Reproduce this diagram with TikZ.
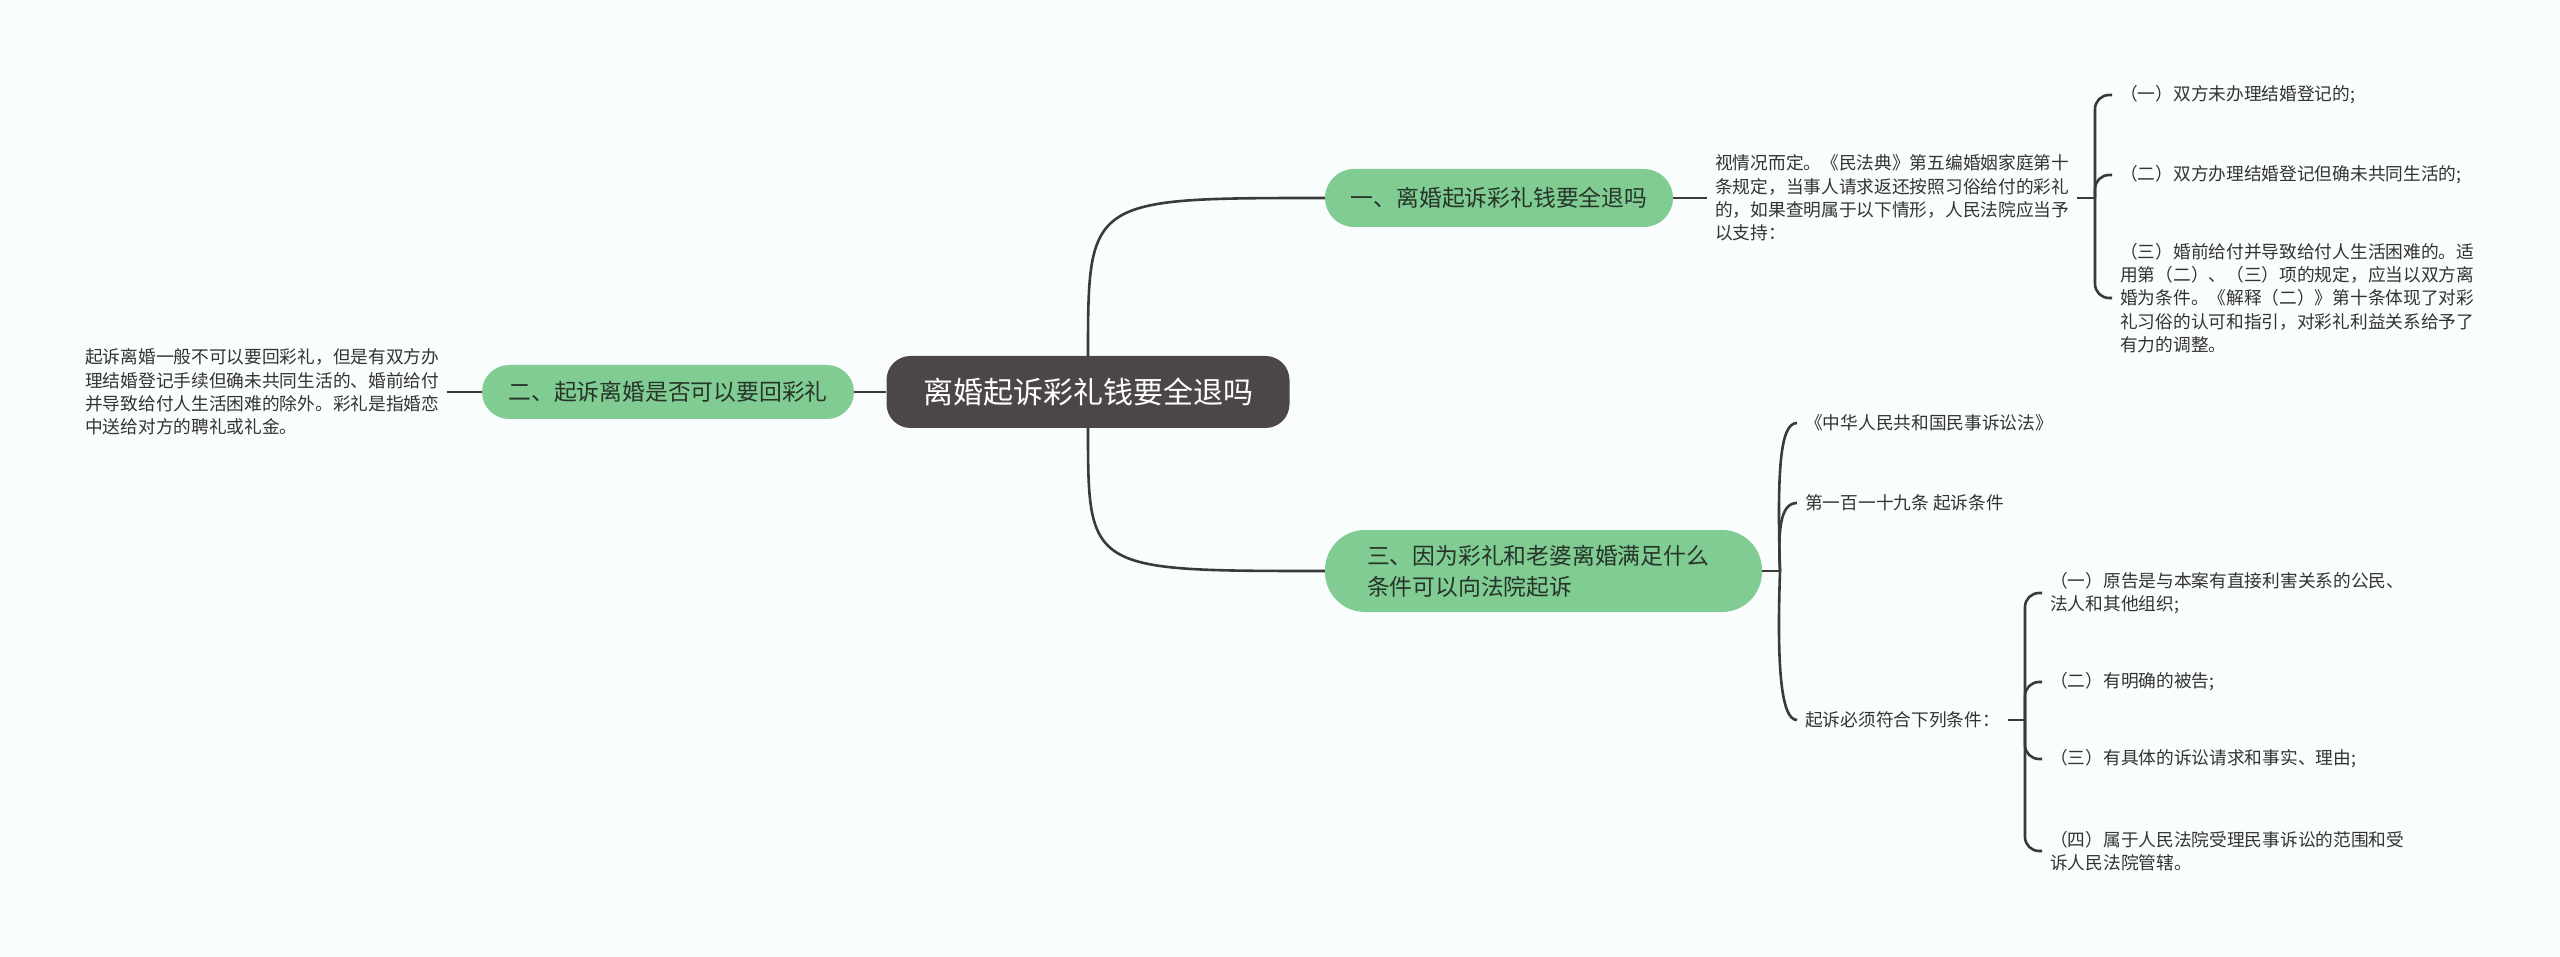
\documentclass[tikz,border=0pt]{standalone}
\usepackage{fontspec}
\setmainfont{Noto Sans CJK SC}
\definecolor{bg}{RGB}{250,253,254}
\definecolor{rootc}{RGB}{76,70,71}
\definecolor{greenc}{RGB}{128,204,147}
\definecolor{linec}{RGB}{58,58,58}
\definecolor{txt}{RGB}{51,51,51}
\definecolor{gtxt}{RGB}{38,52,41}
\tikzset{
  conn/.style={draw=linec, line width=2.6pt},
  rootbox/.style={fill=rootc, rounded corners=24pt, text=white, minimum width=403pt, minimum height=72pt, font=\fontsize{30}{36}\selectfont, inner sep=0pt},
  topic/.style={fill=greenc, text=gtxt, font=\fontsize{22.8}{31}\selectfont, inner sep=0pt},
  leaf/.style={text=txt, font=\fontsize{17.7}{23.4}\selectfont, align=left, inner xsep=8pt, inner ysep=0pt, anchor=west},
}
\begin{document}
\begin{tikzpicture}[x=1pt,y=-1pt]
\fill[bg] (0,0) rectangle (2560,957);
\useasboundingbox (0,0) rectangle (2560,957);

% main nodes
\node[rootbox] (root) at (1088,392) {离婚起诉彩礼钱要全退吗};
\node[topic, rounded corners=27pt, minimum width=372pt, minimum height=54pt] (t2) at (668,392) {二、起诉离婚是否可以要回彩礼};
\node[topic, rounded corners=29pt, minimum width=348pt, minimum height=58pt] (t1) at (1499,198) {一、离婚起诉彩礼钱要全退吗};
\node[topic, rounded corners=40pt, minimum width=437pt, minimum height=82pt, align=left, text width=353pt, inner xsep=42pt] (t3) at (1543.5,571) {三、因为彩礼和老婆离婚满足什么\\条件可以向法院起诉};

% left leaf
\node[leaf] (lt) at (77,392) {起诉离婚一般不可以要回彩礼，但是有双方办\\理结婚登记手续但确未共同生活的、婚前给付\\并导致给付人生活困难的除外。彩礼是指婚恋\\中送给对方的聘礼或礼金。};

% branch 1
\node[leaf] (d1) at (1707,198) {视情况而定。《民法典》第五编婚姻家庭第十\\条规定，当事人请求返还按照习俗给付的彩礼\\的，如果查明属于以下情形，人民法院应当予\\以支持：};
\coordinate (b1) at (2095,198);
\node[leaf] (c11) at (2112,95) {（一）双方未办理结婚登记的;};
\node[leaf] (c12) at (2112,175) {（二）双方办理结婚登记但确未共同生活的;};
\node[leaf] (c13) at (2112,298) {（三）婚前给付并导致给付人生活困难的。适\\用第（二）、（三）项的规定，应当以双方离\\婚为条件。《解释（二）》第十条体现了对彩\\礼习俗的认可和指引，对彩礼利益关系给予了\\有力的调整。};

% branch 3
\coordinate (b3) at (1780,571);
\node[leaf] (c31) at (1797,423) {《中华人民共和国民事诉讼法》};
\node[leaf] (c32) at (1797,503) {第一百一十九条 起诉条件};
\node[leaf] (c33) at (1797,720) {起诉必须符合下列条件：};
\coordinate (b4) at (2025,720);
\node[leaf] (c41) at (2042,593) {（一）原告是与本案有直接利害关系的公民、\\法人和其他组织;};
\node[leaf] (c42) at (2042,682) {（二）有明确的被告;};
\node[leaf] (c43) at (2042,759) {（三）有具体的诉讼请求和事实、理由;};
\node[leaf] (c44) at (2042,851) {（四）属于人民法院受理民事诉讼的范围和受\\诉人民法院管辖。};

% connectors
\draw[conn] (root.west) -- (t2.east);
\draw[conn] (t2.west) -- (lt.east);
\draw[conn] (root.north) .. controls (1088,198) .. (t1.west);
\draw[conn] (root.south) .. controls (1088,571) .. (t3.west);

\draw[conn] (t1.east) -- (d1.west);
\draw[conn] (d1.east) -- (b1);
\draw[conn, rounded corners=14pt] (b1) |- (c11.west);
\draw[conn, rounded corners=14pt] (b1) |- (c12.west);
\draw[conn, rounded corners=14pt] (b1) |- (c13.west);

\draw[conn] (t3.east) -- (b3);
\draw[conn] (b3) .. controls (1777,470) and (1780,423) .. (c31.west);
\draw[conn] (b3) .. controls (1778,530) and (1780,503) .. (c32.west);
\draw[conn] (b3) .. controls (1777,660) and (1780,720) .. (c33.west);

\draw[conn] (c33.east) -- (b4);
\draw[conn, rounded corners=14pt] (b4) |- (c41.west);
\draw[conn, rounded corners=14pt] (b4) |- (c42.west);
\draw[conn, rounded corners=14pt] (b4) |- (c43.west);
\draw[conn, rounded corners=14pt] (b4) |- (c44.west);
\end{tikzpicture}
\end{document}
